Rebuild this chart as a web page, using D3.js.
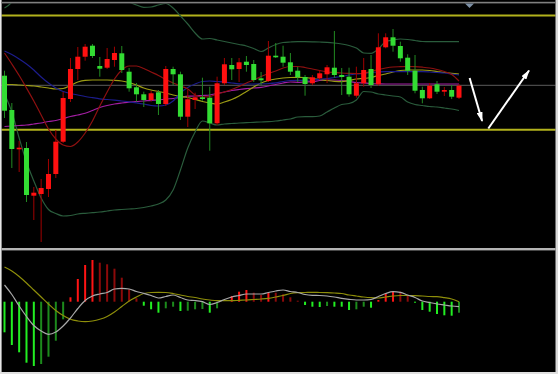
<!DOCTYPE html>
<html><head><meta charset="utf-8">
<script src="https://cdn.jsdelivr.net/npm/d3@7"></script>
<style>html,body{margin:0;padding:0;background:#000;overflow:hidden}</style>
</head><body><svg id="c" width="558" height="374"></svg>
<script>
// ---- candle data (price units) ----
const open  = [174.3,140,100.7,102,54.3,56,61,76,108.3,151,181,193.3,204.3,184,182.3,190,196.7,178.3,162.7,155.7,150,157.7,146,181,175.7,133.3,150,152.7,152.3,126.7,166.7,185,181,188.3,186,171.7,169,194.3,193.3,187.7,179.3,173,166.7,171.7,175.7,182.3,175,173.3,154.3,166.7,181,165.7,202.7,212.7,204,192.3,179.3,160,151.7,165.7,158.3,160,152.3];
const high  = [179.3,147,109,108,63,71,91,120,158,192,203,206,206,193,202,203.3,204,182,167,158.3,159,160,184,183.3,178.3,160,157.3,172.3,163.3,173.3,192,192,192,194,190,178,209,207,204.3,197,183,175,175,180,185,219,182,182.3,183.3,192,195,216.7,216.7,221,208.3,195.7,195,163.3,167,169,163,165,166];
const low   = [132,82,78,48,30,8,53,72,107,148,170,189.3,192,173.3,181,183.3,177,158.3,148.3,143,148.3,135,144,165,130,123,141,149.3,99.3,125,165,170,168,178.3,168,165,168,192,183.3,175,168,154.3,165,170,167,172.3,155,153.3,152.3,163.3,162,164.3,201.7,198.3,188.3,175,156.7,146.7,151,156,154,151,151];
const close = [139.3,101,102.3,55,57.3,62,76,108.3,152,181,193.3,203.3,194,181.3,191,197,180,161.7,155.7,150,156.7,146,181,175.7,133.3,150.7,152.7,151,126.7,166.7,185.7,180.7,187.7,185,170,169.7,194.3,192.7,187.3,178.3,172.7,166,172.7,176.7,182.7,175,173,155.7,166.7,180,165,202.7,212.7,204.3,191.7,179.3,159.3,151.7,164.3,158.3,160,153.3,164.3];

// ---- overlay lines ----
const maRed     = [197,186,174.5,162,149,135,121,111,105,103.5,108,117,129,144,158,171,180,184,184,181.5,178,174.5,170.5,167,164,161,155,153,153.5,156,158,160.5,163.5,167,170,173.5,176.5,179,182,183.5,183.5,182.5,181,179.5,178,177.5,177,176.7,176.5,176.7,178.5,180.5,182,183,183.3,183.5,183.3,182.8,182,180.5,178.5,175.5,169];
const maBlue    = [199,195.5,191,186,180,173,167,162,158.5,156.5,155,153.5,152.3,151.2,150.5,149.8,149,148.2,147.2,146,144.5,144,145,149,157,162.5,166,168.5,169,168.5,168,167,166.2,166,166,166.2,166.5,167.2,168.5,169.5,169.7,169.7,170,170.7,171.5,172.5,173.5,175,176,176.7,177.5,178,178.3,178.3,178.3,178.3,178.3,178.3,178,177.5,177,176,175];
const maYellow  = [165.5,165.5,165,164.5,164,163,162,161,161.5,164.5,168,169.7,170,170,170,169.7,169,167.5,165,162,160,158.5,157,155,153.5,152.5,150.5,148.5,147,146,148,150.5,154,158.5,163,167,169.5,171,172,172.5,172.7,172.5,171.5,170.5,169.5,168.7,168.3,169.5,171,171.5,172.5,174.5,176,178,179.5,180,180,180,179.5,178.5,177.5,176.7,176];
const maMagenta = [123.5,124,124.5,125,126,127,128.5,129.5,131.5,133.5,135,136.7,139.5,142.5,144.5,146,147,147.8,148.5,149,149.7,150,151,151.5,152.5,153.8,154,154.5,155,156.5,158,159.5,160.5,161.3,162,162.7,164,165.5,167,168,167.7,168,168.3,169.5,170,170,169.5,168.5,167.5,167,166.5,166.2,166,166,166,166,166,166,166,166,166,166,166];
const bbUpper   = [242,248,262,274,285,291,292,287,283,279,274,269,267,264,262,256,252,248,245,242.7,243,245,246.5,242,234,226,217,211,211.5,210,208.5,207,205.5,204,201.5,198.5,202,205.5,207.5,208,208.3,208.3,208.2,208,207.7,207,206,204.5,202,197,196.7,201,208.5,210,211,210.5,209.5,208.5,208.3,208.3,208.3,208.3,208.3];
const bbLower   = [156,138,112,88,69,52,40.5,36.5,34,34.5,36,36.7,37.3,38,39,40,40.5,41,41.5,42.5,44,46,50,60,80,102,118,129,127,125,126,126.5,127,127.3,127.7,128,128.3,129,130,131,133,133.3,133.3,134,138,142,145.5,146.5,150,158.5,158,156,155,154,153,148,145.5,144.5,143.5,143,142,141,139.5];

// ---- horizontal levels ----
const yellowLevels = [234.5, 120.3];
const greyLevels = [164.7];

// ---- hand-drawn arrows (index, price) ----
const arrows = [
  {x1: 63.45, p1: 172, x2: 65.15, p2: 129},
  {x1: 66.0, p1: 121.5, x2: 71.55, p2: 179.5}
];

// ---- MACD panel ----
const macdHist = [-30.6,-43.3,-50.6,-61,-64.3,-62.3,-55,-39,-17.6,4.4,22.7,36.7,41.7,39,37.4,33,24,12.4,3.4,-4,-7.6,-11,-6.6,-5,-9.3,-9,-7.6,-7.3,-11,-6.6,0,5.7,10,11.7,9,6.7,9.4,9,7.4,4.4,1,-3.3,-5,-5.3,-4.3,-5,-5,-8.3,-7.6,-5,-6,1.7,8.4,10.7,10,5.7,-1,-8.3,-10,-12.3,-13.6,-14,-11];
const macdLine = [16.7,7.2,-4.3,-14.8,-23.8,-29.3,-32.6,-30.3,-24.3,-16.3,-6.8,1.2,5.7,7.7,9.2,12.7,13.4,12.7,10.2,8.4,6.2,3.7,5.2,6.7,4.2,1.7,1.2,0,-2.8,-0.8,2.2,4.7,6.2,7.7,7.7,7.7,9.2,10.7,11.7,10.2,9.2,7.2,6.4,6.2,5.7,4.7,3.4,2.4,1.7,1.7,2.2,5.2,8.2,10,9.4,6.7,4.2,0.7,-0.8,-2.3,-3.3,-4.3,-5];
const signalLine = [34.7,30.7,25.2,18.7,11.7,4.7,-2.3,-8.8,-13.8,-17.6,-19.3,-20,-19.3,-17.6,-14.8,-10.3,-4.8,0.7,4.7,8.2,9.2,9.4,9.2,8.2,6.7,5.2,4.2,2.7,1.7,1,1,1,1.4,1.7,2.2,2.7,3.4,4.7,6.2,8.2,9,9.2,9.4,9.2,9,8.7,8.2,6.7,5.7,4.7,4,3.7,4.7,5.7,6.2,6.2,6,5.7,5.2,5,4,2.7,0];

const W = 558, H = 374;
const svg = d3.select("#c");
svg.append("rect").attr("width", W).attr("height", H).attr("fill", "#000");

const x = d3.scaleLinear().domain([0, open.length - 1]).range([4.5, 459]);
const y = d3.scaleLinear().domain([0, 250]).range([250, 0]);
const ym = d3.scaleLinear().domain([-70, 50]).range([371.7, 251.7]);

const defs = svg.append("defs");
defs.append("clipPath").attr("id", "clipMain").append("rect")
  .attr("x", 1.5).attr("y", 3.5).attr("width", 554).attr("height", 244);
defs.append("clipPath").attr("id", "clipMacd").append("rect")
  .attr("x", 1.5).attr("y", 251).attr("width", 554).attr("height", 121);
defs.append("marker").attr("id", "ah").attr("viewBox", "0 0 10 6")
  .attr("refX", 9).attr("refY", 3).attr("markerWidth", 10).attr("markerHeight", 6)
  .attr("markerUnits", "userSpaceOnUse").attr("orient", "auto")
  .append("path").attr("d", "M0,0 L10,3 L0,6 Z").attr("fill", "#fff");

const main = svg.append("g").attr("clip-path", "url(#clipMain)");

// levels
main.selectAll(".lvY").data(yellowLevels).join("line")
  .attr("x1", 0).attr("x2", W).attr("y1", d => y(d)).attr("y2", d => y(d))
  .attr("stroke", "#b2b21c").attr("stroke-width", 2);
main.selectAll(".lvG").data(greyLevels).join("line")
  .attr("x1", 0).attr("x2", W).attr("y1", d => y(d)).attr("y2", d => y(d))
  .attr("stroke", "#5c5c5c").attr("stroke-width", 1);

const line = d3.line().x((d, i) => x(i)).y(d => y(d)).curve(d3.curveMonotoneX);
const overlays = [
  {d: bbUpper, c: "#2a5c3c"},
  {d: bbLower, c: "#2a5c3c"},
  {d: maMagenta, c: "#a21ea2"},
  {d: maYellow, c: "#9c9c14"},
  {d: maBlue, c: "#1c1c8c"},
  {d: maRed, c: "#8e1010"}
];
overlays.forEach(o => {
  main.append("path").attr("d", line(o.d)).attr("fill", "none")
    .attr("stroke", o.c).attr("stroke-width", 1.2);
});

// candles
const idx = d3.range(open.length);
const up = i => close[i] >= open[i];
main.selectAll(".wick").data(idx).join("line")
  .attr("x1", i => x(i)).attr("x2", i => x(i))
  .attr("y1", i => y(high[i])).attr("y2", i => y(low[i]))
  .attr("stroke", i => up(i) ? "#a00000" : "#228a22").attr("stroke-width", 1);
main.selectAll(".body").data(idx).join("rect")
  .attr("x", i => x(i) - 2.5).attr("width", 5)
  .attr("y", i => y(Math.max(open[i], close[i])))
  .attr("height", i => Math.max(1.5, Math.abs(y(open[i]) - y(close[i]))))
  .attr("fill", i => up(i) ? "#ff1010" : "#33dd33");

// arrows
main.selectAll(".arr").data(arrows).join("line")
  .attr("x1", d => x(d.x1)).attr("y1", d => y(d.p1))
  .attr("x2", d => x(d.x2)).attr("y2", d => y(d.p2))
  .attr("stroke", "#fff").attr("stroke-width", 2)
  .attr("marker-end", "url(#ah)");

// MACD
const mg = svg.append("g").attr("clip-path", "url(#clipMacd)");
const histColor = i => {
  const v = macdHist[i], prev = i > 0 ? macdHist[i - 1] : 0;
  const rising = v > prev;
  if (v >= 0) return rising ? "#ff1414" : "#8c0a0a";
  return rising ? "#1c8a1c" : "#22ee22";
};
mg.selectAll(".hb").data(idx.filter(i => macdHist[i] !== 0)).join("rect")
  .attr("x", i => x(i) - 1).attr("width", 2)
  .attr("y", i => Math.min(ym(0), ym(macdHist[i])))
  .attr("height", i => Math.abs(ym(macdHist[i]) - ym(0)))
  .attr("fill", histColor);
const mline = d3.line().x((d, i) => x(i)).y(d => ym(d)).curve(d3.curveMonotoneX);
mg.append("path").attr("d", mline(signalLine)).attr("fill", "none")
  .attr("stroke", "#8e8e0a").attr("stroke-width", 1.2);
mg.append("path").attr("d", mline(macdLine)).attr("fill", "none")
  .attr("stroke", "#a8a8a8").attr("stroke-width", 1.2);

// frame
svg.append("rect").attr("x", 0).attr("y", 0).attr("width", 1.6).attr("height", H).attr("fill", "#e6e6e6");
svg.append("rect").attr("x", 555.5).attr("y", 0).attr("width", 2.5).attr("height", H).attr("fill", "#d8d8d8");
svg.append("rect").attr("x", 0).attr("y", 372).attr("width", W).attr("height", 2).attr("fill", "#e0e0e0");
svg.append("rect").attr("x", 1.6).attr("y", 1.8).attr("width", 554).attr("height", 1.6).attr("fill", "#808080");
svg.append("rect").attr("x", 1.6).attr("y", 248).attr("width", 554).attr("height", 2.4).attr("fill", "#b4b4b4");
svg.append("path").attr("d", d3.line()([[465, 3.4], [474, 3.4], [469.5, 8]]) + "Z").attr("fill", "#7d90a6");
</script>
</body></html>
